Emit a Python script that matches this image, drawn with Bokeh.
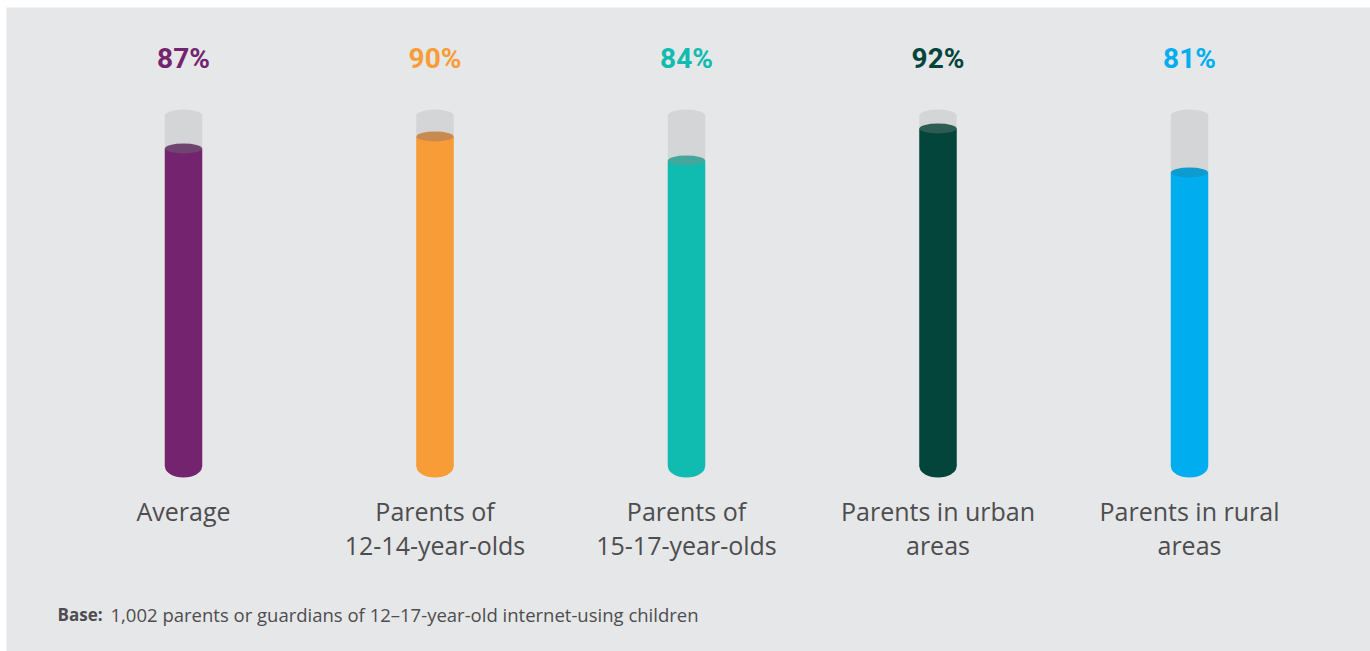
from bokeh.plotting import figure
from bokeh.models import Range1d, ColumnDataSource, Label
from bokeh.core.properties import value
from bokeh.embed import file_html
from bokeh.resources import INLINE

# ---- data ----
categories = ["Average", "Parents of 12-14-year-olds", "Parents of 15-17-year-olds",
              "Parents in urban areas", "Parents in rural areas"]
category_labels = ["Average", "Parents of\n12-14-year-olds", "Parents of\n15-17-year-olds",
                   "Parents in urban\nareas", "Parents in rural\nareas"]
percentages = [87, 90, 84, 92, 81]
pct_labels = ["87%", "90%", "84%", "92%", "81%"]
fill_colors = ["#74246f", "#f79c36", "#10bbb0", "#03443b", "#00aeef"]
cap_colors = ["#6f456f", "#c88a4f", "#44a79e", "#2d5c55", "#0d9ccd"]
footnote_bold = "Base:"
footnote_text = "1,002 parents or guardians of 12\u201317-year-old internet-using children"

# ---- layout constants ----
TRACK_TOP = 95.25
BASE = 7.5
BAR_W = 0.149
LABEL_Y = 109.5
CAT_Y = 0.75

xs = list(range(len(categories)))

p = figure(width=1370, height=651, output_backend="svg", toolbar_location=None,
           x_range=Range1d(-0.7038, 4.7197), y_range=Range1d(-38.75, 122.25),
           min_border_left=6, min_border_top=7, min_border_right=0, min_border_bottom=0,
           background_fill_color="#e6e7e8", border_fill_color="#ffffff",
           outline_line_color=None)
p.axis.visible = False
p.grid.visible = False

src = ColumnDataSource(dict(x=xs, v=percentages, fill=fill_colors, cap=cap_colors,
                            pct=pct_labels, cat=category_labels,
                            top=[TRACK_TOP] * len(xs), base=[BASE] * len(xs),
                            ly=[LABEL_Y] * len(xs), cy=[CAT_Y] * len(xs)))

# grey track
p.vbar(x="x", top="top", bottom="base", width=BAR_W, source=src,
       fill_color="#d4d5d7", line_color=None)
p.ellipse(x="x", y="top", width=37, height=12, width_units="screen", height_units="screen",
          source=src, fill_color="#d4d5d7", line_color=None)

# coloured fill
p.ellipse(x="x", y="base", width=37, height=22, width_units="screen", height_units="screen",
          source=src, fill_color="fill", line_color=None)
p.vbar(x="x", top="v", bottom="base", width=BAR_W, source=src,
       fill_color="fill", line_color=None)
p.ellipse(x="x", y="v", width=37, height=10, width_units="screen", height_units="screen",
          source=src, fill_color="cap", line_color=None)

# percentage labels
p.text(x="x", y="ly", text="pct", source=src, text_color="fill",
       text_font=value("Roboto"),
       text_font_style="bold", text_font_size="28px",
       text_align="center", text_baseline="middle")

# category labels
p.text(x="x", y="cy", text="cat", source=src, text_color="#4d4d4f",
       text_font=value("Open Sans"), text_font_size="25px", text_line_height=1.02,
       text_align="center", text_baseline="top")

# footnote
p.add_layout(Label(x=51, y=37, x_units="screen", y_units="screen", text=footnote_bold,
                   text_font="Open Sans", text_font_style="bold", text_font_size="17px",
                   text_color="#4d4d4f", text_baseline="middle"))
p.add_layout(Label(x=104, y=37, x_units="screen", y_units="screen", text=footnote_text,
                   text_font="Open Sans", text_font_size="18.5px",
                   text_color="#4d4d4f", text_baseline="middle"))

open("out.html", "w").write(file_html(p, INLINE))
